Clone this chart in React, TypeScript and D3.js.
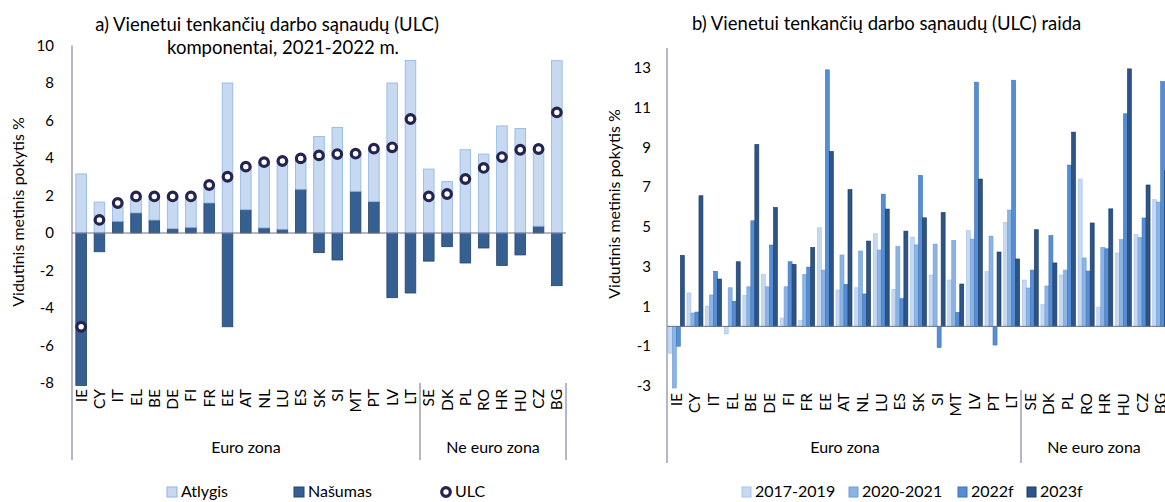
import React, { useEffect, useRef } from 'react';
import * as d3 from 'd3';

// a) ULC komponentai, 2021-2022 m.
const catsA = ['IE', 'CY', 'IT', 'EL', 'BE', 'DE', 'FI', 'FR', 'EE', 'AT', 'NL', 'LU', 'ES', 'SK', 'SI', 'MT', 'PT', 'LV', 'LT',
  'SE', 'DK', 'PL', 'RO', 'HR', 'HU', 'CZ', 'BG'];
const atlygis = [3.15, 1.65, 0.98, 0.88, 1.26, 1.72, 1.65, 0.96, 8.0, 2.3, 3.5, 3.64, 1.65, 5.15, 5.63, 2.01, 2.83, 8.0, 9.2,
  3.41, 2.74, 4.44, 4.21, 5.71, 5.58, 4.12, 9.19];
const nasumas = [-8.13, -1.0, 0.62, 1.07, 0.69, 0.23, 0.3, 1.6, -5.0, 1.24, 0.27, 0.2, 2.33, -1.05, -1.44, 2.22, 1.67, -3.45, -3.2,
  -1.5, -0.73, -1.6, -0.8, -1.73, -1.17, 0.36, -2.81];
const ulc = [-5.0, 0.7, 1.6, 1.95, 1.95, 1.95, 1.95, 2.56, 3.0, 3.54, 3.78, 3.84, 3.98, 4.14, 4.21, 4.23, 4.5, 4.57, 6.08,
  1.95, 2.08, 2.88, 3.47, 4.05, 4.44, 4.48, 6.43];
const ticksA = [-8, -6, -4, -2, 0, 2, 4, 6, 8, 10];

// b) ULC raida
const catsB = ['IE', 'CY', 'IT', 'EL', 'BE', 'DE', 'FI', 'FR', 'EE', 'AT', 'NL', 'LU', 'ES', 'SK', 'SI', 'MT', 'LV', 'PT', 'LT',
  'SE', 'DK', 'PL', 'RO', 'HR', 'HU', 'CZ', 'BG'];
const seriesB = ['2017-2019', '2020-2021', '2022f', '2023f'];
const v2017 = [-1.35, 1.68, 1.02, -0.38, 1.56, 2.6, 0.42, 0.29, 4.96, 1.83, 1.94, 4.66, 1.86, 4.49, 2.58, 2.33, 4.82, 2.75, 5.23,
  2.33, 1.09, 2.58, 7.41, 0.97, 3.69, 4.61, 6.37];
const v2020 = [-3.1, 0.67, 1.58, 1.94, 1.99, 1.99, 1.99, 2.61, 2.83, 3.59, 3.79, 3.84, 4.02, 4.1, 4.14, 4.32, 4.39, 4.54, 5.85,
  1.93, 2.03, 2.83, 3.44, 3.97, 4.36, 4.47, 6.25];
const v2022 = [-1.0, 0.72, 2.77, 1.26, 5.31, 4.09, 3.25, 2.98, 12.9, 2.11, 1.63, 6.65, 1.39, 7.59, -1.07, 0.7, 12.28, -0.94, 12.38,
  2.83, 4.57, 8.11, 2.78, 3.9, 10.69, 5.45, 12.31];
const v2023 = [3.57, 6.57, 2.38, 3.25, 9.15, 5.98, 3.12, 3.97, 8.8, 6.88, 4.29, 5.9, 4.79, 5.46, 5.73, 2.13, 7.41, 3.74, 3.39,
  4.86, 3.19, 9.77, 5.2, 5.91, 12.95, 7.11, 7.82];
const ticksB = [-3, -1, 1, 3, 5, 7, 9, 11, 13];

const FONT = 'Lato, "Open Sans", sans-serif';
const AXIS = '#6e6e8e';
const colA = { atlygis: '#c6d9f1', atlygisStroke: '#8db4e2', nasumas: '#366092', nasumasStroke: '#24446c', ulc: '#24244f' };
const colB = ['#c6d9f1', '#8db3e2', '#558ed5', '#2c5487'];
const colBStroke = ['#a5c3ea', '#6d9ed9', '#3d72b8', '#1c3a62'];

export default function App() {
  const ref = useRef<SVGSVGElement>(null);

  useEffect(() => {
    const svg = d3.select(ref.current);
    svg.selectAll('*').remove();

    // ---------- chart a ----------
    const xa = d3.scaleBand().domain(catsA).range([72, 566]).paddingInner(0.42).paddingOuter(0.21);
    const ya = d3.scaleLinear().domain([-8, 10]).range([383, 45.5]);

    const rows = catsA.map((c, i) => ({ cat: c, nasumas: nasumas[i], atlygis: atlygis[i] }));
    const stacked = d3.stack<any>().keys(['nasumas', 'atlygis']).offset(d3.stackOffsetDiverging)(rows);

    const ga = svg.append('g');
    stacked.forEach((s) => {
      const isAt = s.key === 'atlygis';
      ga.append('g').selectAll('rect').data(s).enter().append('rect')
        .attr('x', (d: any) => xa(d.data.cat)!)
        .attr('width', xa.bandwidth())
        .attr('y', (d: any) => ya(Math.max(d[0], d[1])))
        .attr('height', (d: any) => Math.abs(ya(d[0]) - ya(d[1])))
        .attr('fill', isAt ? colA.atlygis : colA.nasumas)
        .attr('stroke', isAt ? colA.atlygisStroke : colA.nasumasStroke)
        .attr('stroke-width', 0.8);
    });

    ga.append('line').attr('x1', 72).attr('x2', 566).attr('y1', ya(0)).attr('y2', ya(0))
      .attr('stroke', AXIS).attr('stroke-width', 1);

    ga.append('g').selectAll('circle').data(catsA).enter().append('circle')
      .attr('cx', (d) => xa(d)! + xa.bandwidth() / 2)
      .attr('cy', (d, i) => ya(ulc[i]))
      .attr('r', 4.3)
      .attr('fill', '#fff')
      .attr('stroke', colA.ulc)
      .attr('stroke-width', 3.2);

    // axis a
    ga.append('line').attr('x1', 72).attr('x2', 72).attr('y1', 45.5).attr('y2', 460).attr('stroke', AXIS);
    [420, 566].forEach((x) => ga.append('line').attr('x1', x).attr('x2', x).attr('y1', 383).attr('y2', 460).attr('stroke', AXIS));
    ga.append('g').selectAll('text').data(ticksA).enter().append('text')
      .attr('x', 54).attr('y', (d) => ya(d)).attr('dy', '0.35em')
      .attr('text-anchor', 'end').style('font-size', '15px').text((d) => d);
    ga.append('g').selectAll('text').data(catsA).enter().append('text')
      .attr('transform', (d) => `translate(${xa(d)! + xa.bandwidth() / 2 + 5.5},389) rotate(-90)`)
      .attr('text-anchor', 'end').style('font-size', '15.5px').text((d) => d);
    ga.append('text').attr('x', 246).attr('y', 453).attr('text-anchor', 'middle').style('font-size', '16px').text('Euro zona');
    ga.append('text').attr('x', 493).attr('y', 453).attr('text-anchor', 'middle').style('font-size', '16px').text('Ne euro zona');
    ga.append('text').attr('transform', 'translate(24,212) rotate(-90)').attr('text-anchor', 'middle')
      .style('font-size', '16px').text('Vidutinis metinis pokytis %');
    ga.append('text').attr('x', 267).attr('y', 31).attr('text-anchor', 'middle').style('font-size', '18.5px')
      .text('a) Vienetui tenkančių darbo sąnaudų (ULC)');
    ga.append('text').attr('x', 283).attr('y', 54).attr('text-anchor', 'middle').style('font-size', '18.5px')
      .text('komponentai, 2021-2022 m.');

    // legend a
    const la = ga.append('g');
    la.append('rect').attr('x', 167).attr('y', 487).attr('width', 10).attr('height', 10)
      .attr('fill', colA.atlygis).attr('stroke', colA.atlygisStroke);
    la.append('text').attr('x', 181).attr('y', 497).style('font-size', '16px').text('Atlygis');
    la.append('rect').attr('x', 294).attr('y', 487).attr('width', 10).attr('height', 10)
      .attr('fill', colA.nasumas).attr('stroke', colA.nasumasStroke);
    la.append('text').attr('x', 308).attr('y', 497).style('font-size', '16px').text('Našumas');
    la.append('circle').attr('cx', 446).attr('cy', 492).attr('r', 4.3).attr('fill', '#fff')
      .attr('stroke', colA.ulc).attr('stroke-width', 3.2);
    la.append('text').attr('x', 455).attr('y', 497).style('font-size', '16px').text('ULC');

    // ---------- chart b ----------
    const x0 = d3.scaleBand().domain(catsB).range([667, 1170]).paddingInner(0.14).paddingOuter(0.07);
    const x1 = d3.scaleBand().domain(seriesB).range([0, x0.bandwidth()]);
    const yb = d3.scaleLinear().domain([-3, 14]).range([386, 48]);
    const vals = [v2017, v2020, v2022, v2023];

    const gb = svg.append('g');
    seriesB.forEach((s, si) => {
      gb.append('g').selectAll('rect').data(catsB).enter().append('rect')
        .attr('x', (d) => x0(d)! + x1(s)!)
        .attr('width', x1.bandwidth())
        .attr('y', (d, i) => yb(Math.max(0, vals[si][i])))
        .attr('height', (d, i) => Math.abs(yb(vals[si][i]) - yb(0)))
        .attr('fill', colB[si])
        .attr('stroke', colBStroke[si])
        .attr('stroke-width', 0.6);
    });
    gb.append('line').attr('x1', 667).attr('x2', 1170).attr('y1', yb(0)).attr('y2', yb(0)).attr('stroke', AXIS);
    gb.append('line').attr('x1', 667).attr('x2', 667).attr('y1', 48).attr('y2', 463).attr('stroke', AXIS);
    gb.append('line').attr('x1', 1021).attr('x2', 1021).attr('y1', 390).attr('y2', 463).attr('stroke', AXIS);
    gb.append('g').selectAll('text').data(ticksB).enter().append('text')
      .attr('x', 651).attr('y', (d) => yb(d)).attr('dy', '0.35em')
      .attr('text-anchor', 'end').style('font-size', '15px').text((d) => d);
    gb.append('g').selectAll('text').data(catsB).enter().append('text')
      .attr('transform', (d) => `translate(${x0(d)! + x0.bandwidth() / 2 + 5.5},393) rotate(-90)`)
      .attr('text-anchor', 'end').style('font-size', '15.5px').text((d) => d);
    gb.append('text').attr('x', 845).attr('y', 453).attr('text-anchor', 'middle').style('font-size', '16px').text('Euro zona');
    gb.append('text').attr('x', 1094).attr('y', 453).attr('text-anchor', 'middle').style('font-size', '16px').text('Ne euro zona');
    gb.append('text').attr('transform', 'translate(620,204) rotate(-90)').attr('text-anchor', 'middle')
      .style('font-size', '16px').text('Vidutinis metinis pokytis %');
    gb.append('text').attr('x', 692).attr('y', 30).style('font-size', '18.5px')
      .text('b) Vienetui tenkančių darbo sąnaudų (ULC) raida');

    // legend b
    const legX = [742, 849, 958, 1027];
    seriesB.forEach((s, si) => {
      gb.append('rect').attr('x', legX[si]).attr('y', 487).attr('width', 9).attr('height', 10)
        .attr('fill', colB[si]).attr('stroke', colBStroke[si]);
      gb.append('text').attr('x', legX[si] + 13).attr('y', 497).style('font-size', '16px').text(s);
    });
  }, []);

  return (
    <svg ref={ref} width={1165} height={502}
      style={{ position: 'absolute', left: 0, top: 0, fontFamily: FONT, fill: '#000' }} />
  );
}
